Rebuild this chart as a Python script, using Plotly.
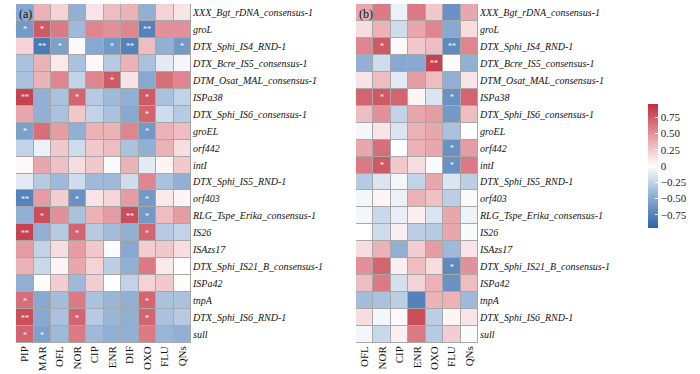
import plotly.graph_objects as go

genes = ["XXX_Bgt_rDNA_consensus-1", "groL", "DTX_Sphi_IS4_RND-1", "DTX_Bcre_IS5_consensus-1",
         "DTM_Osat_MAL_consensus-1", "ISPa38", "DTX_Sphi_IS6_consensus-1", "groEL", "orf442", "intI",
         "DTX_Sphi_IS5_RND-1", "orf403", "RLG_Tspe_Erika_consensus-1", "IS26", "ISAzs17",
         "DTX_Sphi_IS21_B_consensus-1", "ISPa42", "tnpA", "DTX_Sphi_IS6_RND-1", "sull"]

drugs_a = ["PIP", "MAR", "OFL", "NOR", "CIP", "ENR", "DIF", "OXO", "FLU", "QNs"]
drugs_b = ["OFL", "NOR", "CIP", "ENR", "OXO", "FLU", "QNs"]

corr_a = [
    [-0.50, 0.35, 0.20, -0.45, 0.12, 0.30, 0.35, -0.45, 0.20, 0.12],
    [-0.60, 0.75, 0.60, -0.40, 0.55, 0.50, 0.55, -0.75, 0.50, 0.50],
    [0.20, -0.80, -0.55, 0.03, -0.50, -0.60, -0.75, 0.30, -0.45, -0.60],
    [-0.35, 0.35, 0.10, -0.35, 0.03, -0.30, 0.35, -0.35, -0.12, -0.05],
    [-0.35, 0.35, 0.55, -0.25, 0.55, 0.75, 0.12, -0.50, 0.65, 0.55],
    [0.85, -0.45, -0.35, 0.70, -0.30, -0.40, -0.45, 0.75, -0.35, -0.25],
    [0.40, -0.45, -0.35, 0.25, -0.25, -0.35, -0.50, 0.70, -0.20, -0.30],
    [-0.55, 0.65, 0.45, -0.45, 0.35, 0.35, 0.55, -0.60, 0.35, 0.30],
    [-0.25, -0.08, 0.25, -0.20, 0.25, 0.30, -0.35, -0.45, 0.35, 0.15],
    [0.03, 0.40, 0.28, 0.15, 0.25, -0.03, 0.35, -0.12, 0.05, 0.25],
    [-0.12, -0.30, -0.40, -0.20, -0.40, -0.40, -0.20, 0.55, -0.35, -0.45],
    [-0.75, 0.45, 0.22, -0.65, 0.12, 0.18, 0.45, -0.60, 0.10, 0.05],
    [-0.45, 0.80, 0.50, -0.35, 0.35, 0.45, 0.80, -0.60, 0.30, 0.45],
    [0.85, -0.45, -0.30, 0.70, -0.30, -0.38, -0.45, 0.70, -0.30, -0.25],
    [0.45, -0.25, 0.15, 0.45, 0.25, -0.03, -0.50, 0.22, 0.25, 0.15],
    [0.35, -0.22, 0.05, 0.40, 0.20, -0.28, -0.45, 0.60, 0.10, 0.00],
    [-0.45, 0.02, 0.22, -0.40, 0.22, 0.00, -0.25, 0.20, 0.25, 0.02],
    [0.65, -0.50, -0.38, 0.60, -0.35, -0.42, -0.45, 0.70, -0.35, -0.35],
    [0.80, -0.50, -0.35, 0.70, -0.30, -0.42, -0.45, 0.70, -0.35, -0.30],
    [0.70, -0.55, -0.40, 0.60, -0.40, -0.45, -0.45, 0.60, -0.42, -0.45],
]

sig_a = [
    ["", "", "", "", "", "", "", "", "", ""],
    ["*", "*", "", "", "", "", "", "**", "", ""],
    ["", "**", "*", "", "", "*", "**", "", "", "*"],
    ["", "", "", "", "", "", "", "", "", ""],
    ["", "", "", "", "", "*", "", "", "", ""],
    ["**", "", "", "*", "", "", "", "*", "", ""],
    ["", "", "", "", "", "", "", "*", "", ""],
    ["*", "", "", "", "", "", "", "*", "", ""],
    ["", "", "", "", "", "", "", "", "", ""],
    ["", "", "", "", "", "", "", "", "", ""],
    ["", "", "", "", "", "", "", "", "", ""],
    ["**", "", "", "*", "", "", "", "*", "", ""],
    ["", "*", "", "", "", "", "**", "*", "", ""],
    ["**", "", "", "*", "", "", "", "*", "", ""],
    ["", "", "", "", "", "", "", "", "", ""],
    ["", "", "", "", "", "", "", "", "", ""],
    ["", "", "", "", "", "", "", "", "", ""],
    ["*", "", "", "", "", "", "", "*", "", ""],
    ["**", "", "", "*", "", "", "", "*", "", ""],
    ["*", "*", "", "", "", "", "", "", "", ""],
]

corr_b = [
    [0.40, 0.60, -0.08, 0.60, 0.25, -0.65, 0.40],
    [0.15, 0.35, -0.20, 0.40, 0.55, -0.50, 0.15],
    [0.55, 0.75, 0.03, 0.25, 0.30, -0.70, 0.55],
    [-0.45, -0.20, -0.50, -0.50, 0.85, -0.03, -0.45],
    [0.12, 0.30, -0.12, 0.45, 0.30, -0.45, 0.12],
    [0.70, 0.75, 0.70, 0.05, -0.15, -0.65, 0.70],
    [0.30, 0.50, -0.25, 0.40, 0.45, -0.60, 0.30],
    [-0.05, 0.12, -0.15, 0.35, 0.40, -0.35, 0.00],
    [0.40, 0.65, 0.00, 0.35, 0.40, -0.65, 0.45],
    [0.60, 0.75, 0.25, 0.15, -0.03, -0.65, 0.60],
    [-0.30, -0.15, -0.05, -0.25, 0.40, -0.15, -0.28],
    [-0.05, 0.05, -0.08, 0.35, 0.28, -0.28, -0.03],
    [-0.05, -0.22, -0.10, 0.07, -0.15, 0.40, -0.07],
    [0.00, -0.20, 0.07, -0.28, -0.30, 0.40, -0.03],
    [0.15, 0.35, -0.45, 0.22, 0.45, -0.40, 0.12],
    [0.50, 0.70, 0.07, 0.30, 0.15, -0.70, 0.50],
    [0.30, 0.60, -0.18, 0.20, 0.35, -0.65, 0.30],
    [-0.38, -0.35, -0.28, -0.75, 0.35, 0.35, -0.40],
    [0.15, -0.05, 0.03, 0.80, -0.28, 0.05, 0.12],
    [-0.05, -0.22, 0.07, 0.60, -0.30, 0.22, -0.03],
]

sig_b = [
    ["", "", "", "", "", "", ""],
    ["", "", "", "", "", "", ""],
    ["", "*", "", "", "", "**", ""],
    ["", "", "", "", "**", "", ""],
    ["", "", "", "", "", "", ""],
    ["", "*", "", "", "", "*", ""],
    ["", "", "", "", "", "", ""],
    ["", "", "", "", "", "", ""],
    ["", "", "", "", "", "*", ""],
    ["", "*", "", "", "", "*", ""],
    ["", "", "", "", "", "", ""],
    ["", "", "", "", "", "", ""],
    ["", "", "", "", "", "", ""],
    ["", "", "", "", "", "", ""],
    ["", "", "", "", "", "", ""],
    ["", "", "", "", "", "*", ""],
    ["", "", "", "", "", "", ""],
    ["", "", "", "", "", "", ""],
    ["", "", "", "", "", "", ""],
    ["", "", "", "", "", "", ""],
]

cbar_vals = [0.75, 0.5, 0.25, 0, -0.25, -0.5, -0.75]
cbar_text = ["0.75", "0.50", "0.25", "0", "\u22120.25", "\u22120.50", "\u22120.75"]

W, H = 700, 374
colorscale = [
    [0.0, "rgb(45,100,168)"],
    [0.25, "rgb(140,172,210)"],
    [0.5, "rgb(255,255,255)"],
    [0.75, "rgb(228,150,158)"],
    [1.0, "rgb(192,45,60)"],
]
serif = "Liberation Serif"

fig = go.Figure()
fig.add_trace(go.Heatmap(
    z=corr_a, x=drugs_a, y=genes, text=sig_a, texttemplate="%{text}",
    textfont=dict(color="white", size=8, family=serif),
    colorscale=colorscale, zmin=-0.95, zmax=0.95, xgap=1, ygap=1,
    xaxis="x", yaxis="y", showscale=False, hoverongaps=False,
))
fig.add_trace(go.Heatmap(
    z=corr_b, x=drugs_b, y=genes, text=sig_b, texttemplate="%{text}",
    textfont=dict(color="white", size=8, family=serif),
    colorscale=colorscale, zmin=-0.95, zmax=0.95, xgap=1, ygap=1,
    xaxis="x2", yaxis="y2", showscale=True,
    colorbar=dict(
        x=648 / W, xanchor="left", xpad=0, ypad=0, y=1 - 166 / H, yanchor="middle",
        len=124 / H, lenmode="fraction", thickness=10, outlinewidth=0,
        tickvals=cbar_vals, ticktext=cbar_text, ticks="inside", ticklen=3,
        tickcolor="white", tickfont=dict(family=serif, size=11, color="#222"),
    ),
))

ydom = [1 - 343 / H, 1 - 4 / H]
axis_common = dict(showgrid=False, zeroline=False, ticks="", showline=False)
fig.update_layout(
    width=W, height=H, margin=dict(l=0, r=0, t=0, b=0),
    paper_bgcolor="white", plot_bgcolor="#a8a8a8",
    font=dict(family=serif, color="#111"),
    xaxis=dict(domain=[16 / W, 191 / W], tickangle=-90, tickfont=dict(size=11),
               ticklabelstandoff=0, **axis_common),
    yaxis=dict(domain=ydom, autorange="reversed", side="right", **axis_common),
    xaxis2=dict(domain=[356 / W, 478 / W], tickangle=-90, tickfont=dict(size=11), anchor="y2",
                ticklabelstandoff=0, **axis_common),
    yaxis2=dict(domain=ydom, autorange="reversed", side="right", anchor="x2", **axis_common),
    annotations=[
        dict(text="(a)", x=17 / W, y=1 - 5 / H, xref="paper", yref="paper",
             xanchor="left", yanchor="top", showarrow=False, font=dict(size=12, family=serif, color="#111")),
        dict(text="(b)", x=357 / W, y=1 - 5 / H, xref="paper", yref="paper",
             xanchor="left", yanchor="top", showarrow=False, font=dict(size=12, family=serif, color="#111")),
    ],
)
fig.update_yaxes(tickfont=dict(size=10, family=serif), ticklabelstandoff=1,
                 ticktext=["<i>" + g + "</i>" for g in genes], tickvals=genes)

fig.write_html("out.html", config={"displayModeBar": False},
               post_script="document.body.style.margin='0';document.body.style.overflow='hidden';")
